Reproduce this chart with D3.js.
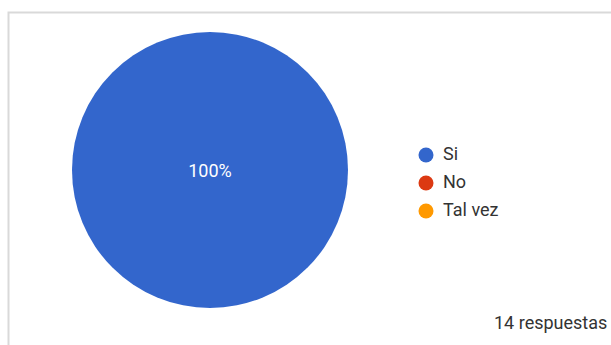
<!DOCTYPE html>
<html>
<head>
<meta charset="utf-8">
<script src="https://cdn.jsdelivr.net/npm/d3@7"></script>
<style>
  html, body { margin: 0; padding: 0; background: #fff; }
  svg { display: block; font-family: Roboto, Arial, sans-serif; }
</style>
</head>
<body>
<svg id="chart" width="611" height="345"></svg>
<script>
// Survey answers
const categories = ["Si", "No", "Tal vez"];
const counts = [14, 0, 0];
const colors = ["#3366cc", "#dc3912", "#ff9900"];
const totalLabel = "14 respuestas";

const svg = d3.select("#chart");
const W = 611, H = 345;

// Card frame (left and top edges visible)
svg.append("path")
  .attr("d", `M8.5,${H} V12.5 H${W}`)
  .attr("fill", "none")
  .attr("stroke", "#d9d9d9")
  .attr("stroke-width", 2);

const cx = 210, cy = 170, r = 138;
const total = d3.sum(counts);

const pie = d3.pie().sort(null).value(d => d.v);
const arcs = pie(categories.map((c, i) => ({ c, v: counts[i], i })));
const arc = d3.arc().innerRadius(0).outerRadius(r);

const g = svg.append("g").attr("transform", `translate(${cx},${cy})`);
g.selectAll("path")
  .data(arcs.filter(a => a.data.v > 0))
  .join("path")
  .attr("d", arc)
  .attr("fill", d => colors[d.data.i]);

// Percentage labels
const fmt = d3.format(".0%");
g.selectAll("text.pct")
  .data(arcs.filter(a => a.data.v > 0))
  .join("text")
  .attr("class", "pct")
  .attr("transform", d => {
    if (d.endAngle - d.startAngle > 2 * Math.PI - 1e-6) return "translate(0,2)";
    const [x, y] = d3.arc().innerRadius(r * 0.6).outerRadius(r * 0.6).centroid(d);
    return `translate(${x},${y})`;
  })
  .attr("text-anchor", "middle")
  .attr("dominant-baseline", "middle")
  .attr("fill", "#fff")
  .attr("font-size", 18)
  .text(d => fmt(d.data.v / total));

// Legend
const y = d3.scalePoint().domain(categories).range([155, 211]);
const leg = svg.append("g");
const item = leg.selectAll("g").data(categories).join("g")
  .attr("transform", d => `translate(426,${y(d)})`);
item.append("circle").attr("r", 7.5).attr("fill", (d, i) => colors[i]);
item.append("text")
  .attr("x", 17)
  .attr("dominant-baseline", "middle")
  .attr("font-size", 18)
  .attr("fill", "#333")
  .text(d => d);

svg.append("text")
  .attr("x", 494)
  .attr("y", 329)
  .attr("font-size", 18)
  .attr("fill", "#333")
  .text(totalLabel);
</script>
</body>
</html>
